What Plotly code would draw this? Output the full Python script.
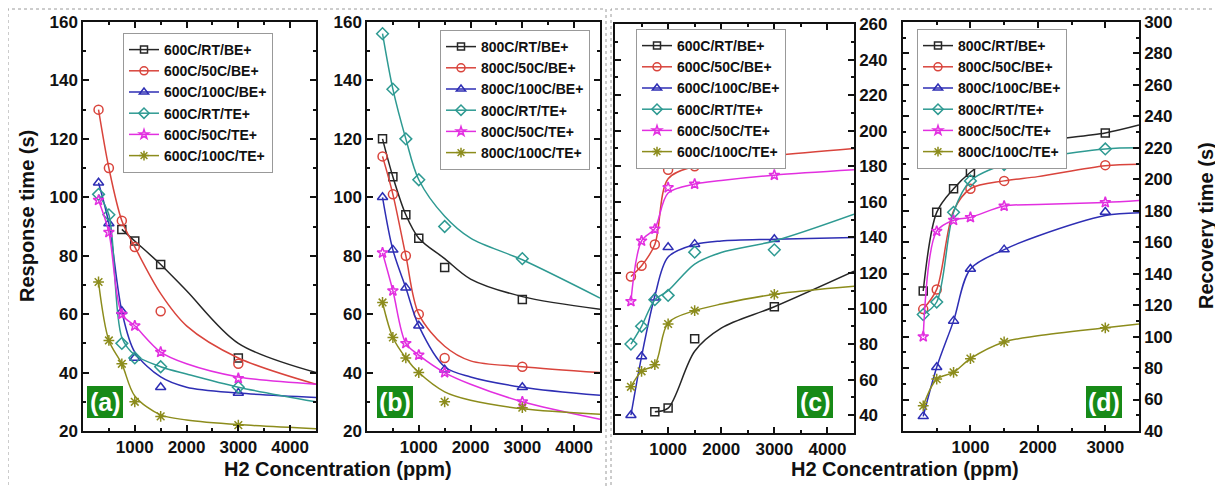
import plotly.graph_objects as go

# the page body has an 8px margin, so the figure is 8px smaller and all
# reference pixel positions are shifted by 8px
OFF = 8
W, H = 1223 - OFF, 487 - OFF

# ---------------- data ----------------
X_PTS = [300, 500, 750, 1000, 1500, 3000]
X_CURVE = [300, 500, 750, 1000, 1500, 2000, 3000, 4500]
X_CURVE_D = [300, 500, 750, 1000, 1500, 2000, 3000, 3500]

NAMES_A = ["600C/RT/BE+", "600C/50C/BE+", "600C/100C/BE+", "600C/RT/TE+", "600C/50C/TE+", "600C/100C/TE+"]
NAMES_B = ["800C/RT/BE+", "800C/50C/BE+", "800C/100C/BE+", "800C/RT/TE+", "800C/50C/TE+", "800C/100C/TE+"]
NAMES_C = ["600C/RT/BE+", "600C/50C/BE+", "600C/100C/BE+", "600C/RT/TE+", "600C/50C/TE+", "600C/100C/TE+"]
NAMES_D = ["800C/RT/BE+", "800C/50C/BE+", "800C/100C/BE+", "800C/RT/TE+", "800C/50C/TE+", "800C/100C/TE+"]

# (a) response time, 600C samples (markers)
A_RT_BE = [None, None, 89, 85, 77, 45]
A_50_BE = [130, 110, 92, 83, 61, 43]
A_100_BE = [105, 91, 61, 45, 35, 33]
A_RT_TE = [101, 94, 50, 45, 42, 35]
A_50_TE = [99, 88, 60, 56, 47, 38]
A_100_TE = [71, 51, 43, 30, 25, 22]
# (a) fitted curves
A_RT_BE_C = [None, None, 89, 85, 77, 68, 50, 40]
A_50_BE_C = [130, 110, 92, 83, 67, 56, 45, 36]
A_100_BE_C = [105, 91, 61, 47, 38.5, 35, 33, 31.5]
A_RT_TE_C = [101, 94, 52, 46, 42, 39.5, 35, 30]
A_50_TE_C = [99, 88, 60, 56, 47, 43, 38.5, 36]
A_100_TE_C = [71, 51, 43, 32, 25.5, 23.8, 22.2, 20.8]

# (b) response time, 800C samples
B_RT_BE = [120, 107, 94, 86, 76, 65]
B_50_BE = [114, 101, 80, 60, 45, 42]
B_100_BE = [100, 82, 69, 56, 41, 35]
B_RT_TE = [156, 137, 120, 106, 90, 79]
B_50_TE = [81, 68, 50, 46, 40, 30]
B_100_TE = [64, 52, 45, 40, 30, 28]
B_RT_BE_C = [120, 107, 94, 86, 79, 72, 66, 61.7]
B_50_BE_C = [114, 101, 80, 60, 49, 44, 42, 40]
B_100_BE_C = [100, 82, 69, 56, 42, 38.5, 35, 32.2]
B_RT_TE_C = [156, 137, 120, 106, 93.5, 86, 78.6, 65.5]
B_50_TE_C = [81, 68, 50, 46, 40, 36, 30, 24]
B_100_TE_C = [64, 52, 45, 40, 33.4, 30.5, 27.6, 25.7]

# (c) recovery time, 600C samples
C_RT_BE = [None, None, 42, 44, 83, 101]
C_50_BE = [118, 124, 136, 178, 180, 186]
C_100_BE = [40, 73, 106, 134.4, 136.2, 139]
C_RT_TE = [80, 90, 105, 107.4, 131.7, 133]
C_50_TE = [104, 138, 144.7, 168, 170, 175]
C_100_TE = [56, 64.7, 68.4, 91.3, 98.8, 108]
C_RT_BE_C = [None, None, 42, 44, 76, 89, 101, 121]
C_50_BE_C = [118, 124, 136, 173, 180, 182.5, 186, 190]
C_100_BE_C = [40, 73, 107, 129, 136, 138, 139, 140]
C_RT_TE_C = [80, 90, 105, 110, 125, 131.5, 138, 153]
C_50_TE_C = [104, 138, 145, 165, 170, 172, 175, 178]
C_100_TE_C = [56, 64.7, 68.4, 92, 98.8, 102.5, 108, 112.5]

# (d) recovery time, 800C samples
D_RT_BE = [129, 179, 194, 204.5, 219, 229.5]
D_50_BE = [117.5, 130, None, 194, 199, 209]
D_100_BE = [49.3, 80.5, 110, 143, 155.3, 179.2]
D_RT_TE = [114, 122, 179, 199, 209.4, 219.3]
D_50_TE = [100, 167, 174, 175.8, 183, 185.3]
D_100_TE = [56, 73, 77.3, 86, 96.6, 105.6]
D_RT_BE_C = [129, 179, 194, 204.5, 218.8, 224, 229.5, 234.5]
D_50_BE_C = [117.5, 130, 180, 194, 199, 201.7, 208.6, 209.6]
D_100_BE_C = [49.3, 80.5, 110, 143, 155.3, 164, 177, 178.8]
D_RT_TE_C = [114, 122, 179, 199, 209.4, 213.5, 219.3, 220]
D_50_TE_C = [100, 167, 174, 175.8, 183, 184, 185.3, 186.5]
D_100_TE_C = [56, 73, 77.3, 86, 96.6, 100.5, 105.6, 108]

X_TICKS_ABC = [1000, 2000, 3000, 4000]
X_TICKS_D = [1000, 2000, 3000]
Y_TICKS_AB = [20, 40, 60, 80, 100, 120, 140, 160]
Y_TICKS_C = [40, 60, 80, 100, 120, 140, 160, 180, 200, 220, 240, 260]
Y_TICKS_D = [40, 60, 80, 100, 120, 140, 160, 180, 200, 220, 240, 260, 280, 300]

# ---------------- styles ----------------
COLORS = ["#262626", "#d9443c", "#2e2eb4", "#2e9a92", "#e22fe0", "#8c8c1c"]
SYMBOLS = ["square-open", "circle-open", "triangle-up-open", "diamond-open", "star-open", "asterisk-open"]
MSIZE = [8, 9, 9, 9, 8, 9]

def px_x(p):
    return (p - OFF) / W

def px_y(p):
    return 1 - (p - OFF) / H

FONT = "Liberation Sans, Arial, sans-serif"
NARROW = "Liberation Sans Narrow, Arial Narrow, Liberation Sans, sans-serif"

fig = go.Figure()

panels = [
    dict(ax="", names=NAMES_A, legend="legend", xc=X_CURVE,
         pts=[A_RT_BE, A_50_BE, A_100_BE, A_RT_TE, A_50_TE, A_100_TE],
         cur=[A_RT_BE_C, A_50_BE_C, A_100_BE_C, A_RT_TE_C, A_50_TE_C, A_100_TE_C]),
    dict(ax="2", names=NAMES_B, legend="legend2", xc=X_CURVE,
         pts=[B_RT_BE, B_50_BE, B_100_BE, B_RT_TE, B_50_TE, B_100_TE],
         cur=[B_RT_BE_C, B_50_BE_C, B_100_BE_C, B_RT_TE_C, B_50_TE_C, B_100_TE_C]),
    dict(ax="3", names=NAMES_C, legend="legend3", xc=X_CURVE,
         pts=[C_RT_BE, C_50_BE, C_100_BE, C_RT_TE, C_50_TE, C_100_TE],
         cur=[C_RT_BE_C, C_50_BE_C, C_100_BE_C, C_RT_TE_C, C_50_TE_C, C_100_TE_C]),
    dict(ax="4", names=NAMES_D, legend="legend4", xc=X_CURVE_D,
         pts=[D_RT_BE, D_50_BE, D_100_BE, D_RT_TE, D_50_TE, D_100_TE],
         cur=[D_RT_BE_C, D_50_BE_C, D_100_BE_C, D_RT_TE_C, D_50_TE_C, D_100_TE_C]),
]

for p in panels:
    xa = "x" + p["ax"]
    ya = "y" + p["ax"]
    for i in range(6):
        c = COLORS[i]
        fig.add_trace(go.Scatter(
            x=p["xc"], y=p["cur"][i], mode="lines", xaxis=xa, yaxis=ya,
            line=dict(color=c, width=1.5, shape="spline", smoothing=0.9),
            connectgaps=False, showlegend=False, hoverinfo="skip"))
        fig.add_trace(go.Scatter(
            x=X_PTS, y=p["pts"][i], mode="markers", xaxis=xa, yaxis=ya,
            marker=dict(symbol=SYMBOLS[i], color=c, size=MSIZE[i],
                        line=dict(color=c, width=1.5)),
            showlegend=False))
        # legend entry
        fig.add_trace(go.Scatter(
            x=[None], y=[None], mode="lines+markers", xaxis=xa, yaxis=ya,
            name=p["names"][i], legend=p["legend"],
            line=dict(color=c, width=1.5),
            marker=dict(symbol=SYMBOLS[i], color=c, size=MSIZE[i] - 1,
                        line=dict(color=c, width=1.5)),
            showlegend=True))

def xaxis(domain, rng, ticks, anchor, mdt=500):
    return dict(domain=domain, range=rng, tickvals=ticks, ticks="inside", ticklen=6,
                anchor=anchor, automargin=False,
                tickwidth=1.5, tickcolor="#111", mirror="ticks", showline=True,
                linecolor="#111", linewidth=1.5, showgrid=False, zeroline=False,
                tickfont=dict(family=FONT, size=17, color="#111", weight="bold"),
                minor=dict(dtick=mdt, ticks="inside", ticklen=3, tickcolor="#111", showgrid=False))

def yaxis(domain, rng, ticks, anchor, side="left"):
    return dict(domain=domain, range=rng, tickvals=ticks, ticks="inside", ticklen=6,
                anchor=anchor, automargin=False,
                tickwidth=1.5, tickcolor="#111", mirror="ticks", showline=True, side=side,
                linecolor="#111", linewidth=1.5, showgrid=False, zeroline=False,
                tickfont=dict(family=FONT, size=17, color="#111", weight="bold"),
                minor=dict(dtick=10, ticks="inside", ticklen=3, tickcolor="#111", showgrid=False))

yd_ab = [px_y(431), px_y(22)]
yd_c = [px_y(433), px_y(24)]

legend_common = dict(xanchor="left", yanchor="top", bgcolor="white", bordercolor="#999",
                     borderwidth=1, font=dict(family=FONT, size=14, color="#111", weight="bold"),
                     tracegroupgap=0, itemwidth=30)

fig.update_layout(
    width=W, height=H, margin=dict(l=0, r=0, t=0, b=0, autoexpand=False),
    paper_bgcolor="white", plot_bgcolor="white",
    xaxis=xaxis([px_x(83), px_x(316)], [0, 4500], X_TICKS_ABC, "y"),
    yaxis=yaxis(yd_ab, [20, 160], Y_TICKS_AB, "x"),
    xaxis2=xaxis([px_x(367), px_x(600)], [0, 4500], X_TICKS_ABC, "y2"),
    yaxis2=yaxis(yd_ab, [20, 160], Y_TICKS_AB, "x2"),
    xaxis3=xaxis([px_x(615), px_x(854)], [0, 4500], X_TICKS_ABC, "y3"),
    yaxis3=yaxis(yd_c, [30, 260], Y_TICKS_C, "x3", side="right"),
    xaxis4=xaxis([px_x(903), px_x(1139)], [0, 3500], X_TICKS_D, "y4"),
    yaxis4=yaxis(yd_ab, [40, 300], Y_TICKS_D, "x4", side="right"),
    legend=dict(x=px_x(123), y=px_y(33), **legend_common),
    legend2=dict(x=px_x(440), y=px_y(30), **legend_common),
    legend3=dict(x=px_x(636), y=px_y(29), **legend_common),
    legend4=dict(x=px_x(917), y=px_y(29), **legend_common),
    showlegend=True,
)

# panel labels
GREEN = "#178a17"
for txt, cx in [("(a)", 105), ("(b)", 395), ("(c)", 815), ("(d)", 1104)]:
    fig.add_shape(type="rect", xref="paper", yref="paper",
                  x0=px_x(cx - 18), x1=px_x(cx + 18), y0=px_y(418), y1=px_y(386),
                  fillcolor=GREEN, line=dict(width=0))
    fig.add_annotation(text=txt, xref="paper", yref="paper", x=px_x(cx), y=px_y(402),
                       showarrow=False, xanchor="center", yanchor="middle",
                       font=dict(family=FONT, size=25, color="white", weight="bold"))

# axis titles
for cx in [338, 905]:
    fig.add_annotation(text="H2 Concentration (ppm)", xref="paper", yref="paper",
                       x=px_x(cx), y=px_y(469), showarrow=False, xanchor="center", yanchor="middle",
                       font=dict(family=NARROW, size=20, color="#111", weight="bold"))
fig.add_annotation(text="Response time (s)", xref="paper", yref="paper",
                   x=px_x(27), y=px_y(216), showarrow=False, textangle=-90,
                   xanchor="center", yanchor="middle",
                   font=dict(family=NARROW, size=20, color="#111", weight="bold"))
fig.add_annotation(text="Recovery time (s)", xref="paper", yref="paper",
                   x=px_x(1206), y=px_y(226), showarrow=False, textangle=-90,
                   xanchor="center", yanchor="middle",
                   font=dict(family=NARROW, size=20, color="#111", weight="bold"))

# dotted frames around the two halves
for x0, x1 in [(8, 606), (611, 1221)]:
    fig.add_shape(type="rect", xref="paper", yref="paper",
                  x0=px_x(x0), x1=px_x(x1), y0=px_y(500), y1=px_y(9),
                  line=dict(color="#9a9a9a", width=1, dash="dot"))

fig.write_html("out.html")
